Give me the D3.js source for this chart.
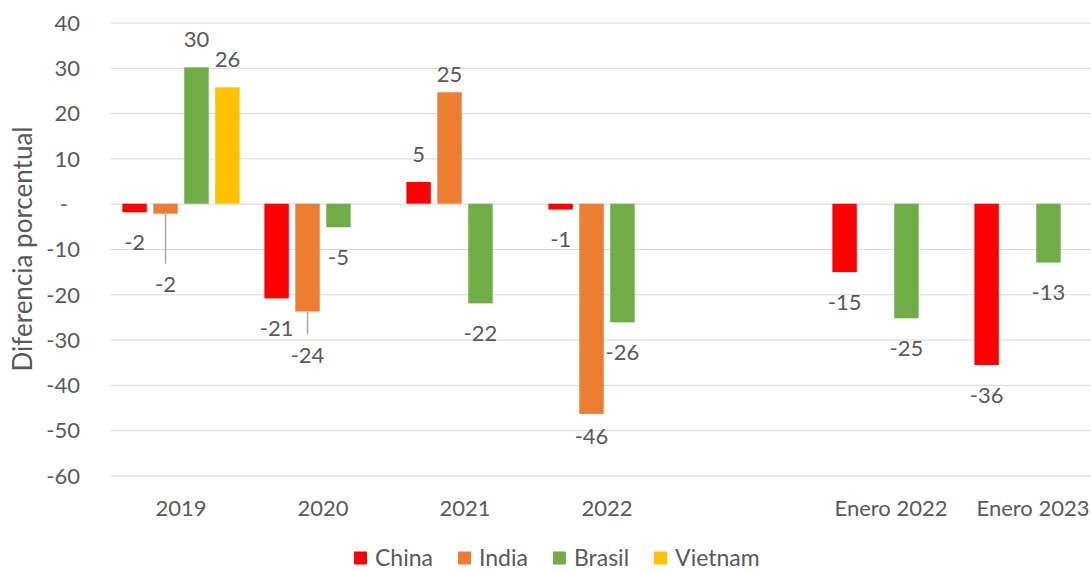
<!DOCTYPE html>
<html lang="es">
<head>
<meta charset="utf-8">
<title>Diferencia porcentual</title>
<script src="https://d3js.org/d3.v7.min.js"></script>
<style>
  body { margin: 0; background: #fff; }
  text { font-family: Lato, "Noto Sans", sans-serif; fill: #595959; }
  .grid line { stroke: #d9d9d9; stroke-width: 1; }
  .grid .domain, .xaxis .domain { display: none; }
</style>
</head>
<body>
<div id="chart"></div>
<script>

// categories (the blank one is the gap before the January comparison)
var categories = ["2019", "2020", "2021", "2022", "", "Enero 2022", "Enero 2023"];
var seriesNames = ["China", "India", "Brasil", "Vietnam"];

// values, one array per country (null = no bar)
var china   = [-1.9, -20.9,  4.8, -1.3, null, -15.1, -35.6];
var india   = [-2.2, -23.8, 24.6, -46.4, null, null, null];
var brasil  = [30.1,  -5.2, -22.0, -26.2, null, -25.3, -13.0];
var vietnam = [25.7,  null,  null,  null, null, null, null];

var yTicks = [40, 30, 20, 10, 0, -10, -20, -30, -40, -50, -60];

var colors = {China: "#ff0000", India: "#ed7d31", Brasil: "#70ad47", Vietnam: "#ffc000"};

// labels moved by hand in the original (dy in px), some with leader lines
var labelMoves = {
  "India|2019": {dy: 41, leader: true},
  "India|2020": {dy: 14, leader: true},
  "India|2021": {dy: 10},
  "India|2022": {dy: -8}
};

var seriesValues = {China: china, India: india, Brasil: brasil, Vietnam: vietnam};

var width = 1091, height = 571;

var svg = d3.select("#chart")
  .append("svg")
    .attr("width", width)
    .attr("height", height);

// hyphen minus like the spreadsheet, not the unicode minus
var fmt = d3.formatLocale({decimal: ".", thousands: ",", grouping: [3], currency: ["", ""], minus: "-"}).format(".0f");

// scales
var x0 = d3.scaleBand()
  .domain(categories)
  .range([110, 1104]);

var x1 = d3.scaleBand()
  .domain(seriesNames)
  .range([0, x0.bandwidth()])
  .paddingInner(0.21)
  .paddingOuter(0.4);

var y = d3.scaleLinear()
  .domain([-60, 40])
  .range([475.5, 22.5]);

// gridlines + y tick labels
var yAxis = svg.append("g")
  .attr("class", "grid")
  .attr("transform", "translate(110,0)")
  .call(d3.axisLeft(y)
    .tickValues(yTicks)
    .tickSize(-(width - 110))
    .tickPadding(30)
    .tickFormat(function(d) { return d === 0 ? "-" : fmt(d); }));

yAxis.selectAll("text")
  .style("font-size", "22px")
  .attr("dy", "0.35em")
  .attr("dx", function(d) { return d === 0 ? -12 : 0; });

// category labels
var xAxis = svg.append("g")
  .attr("class", "xaxis")
  .attr("transform", "translate(0," + y(-60) + ")")
  .call(d3.axisBottom(x0).tickSize(0));

xAxis.selectAll("text")
  .style("font-size", "22px")
  .attr("y", 33)
  .attr("dy", "0.35em");

// flatten to one row per bar
var bars = [];
seriesNames.forEach(function(s) {
  seriesValues[s].forEach(function(v, i) {
    if (v !== null) bars.push({series: s, cat: categories[i], value: v});
  });
});

// bars
svg.append("g")
  .selectAll("rect")
  .data(bars)
  .enter()
  .append("rect")
    .attr("x", function(d) { return x0(d.cat) + x1(d.series); })
    .attr("y", function(d) { return y(Math.max(0, d.value)); })
    .attr("width", x1.bandwidth())
    .attr("height", function(d) { return Math.abs(y(d.value) - y(0)); })
    .style("fill", function(d) { return colors[d.series]; });

// data labels
function labelX(d) { return x0(d.cat) + x1(d.series) + x1.bandwidth() / 2; }
function labelY(d) {
  var m = labelMoves[d.series + "|" + d.cat];
  var base = d.value < 0 ? y(d.value) + 30 : y(d.value) - 28;
  return base + (m ? m.dy : 0);
}

svg.append("g")
  .selectAll("line")
  .data(bars.filter(function(d) {
    var m = labelMoves[d.series + "|" + d.cat];
    return m && m.leader;
  }))
  .enter()
  .append("line")
    .attr("x1", labelX)
    .attr("x2", labelX)
    .attr("y1", function(d) { return y(d.value); })
    .attr("y2", function(d) { return labelY(d) - 21; })
    .style("stroke", "#a6a6a6")
    .style("stroke-width", 1.5);

svg.append("g")
  .selectAll("text")
  .data(bars)
  .enter()
  .append("text")
    .attr("x", labelX)
    .attr("y", labelY)
    .attr("dy", "0.35em")
    .style("text-anchor", "middle")
    .style("font-size", "22px")
    .text(function(d) { return fmt(d.value); });

// y axis title
svg.append("text")
  .attr("transform", "translate(23," + y(-10) + ") rotate(-90)")
  .attr("dy", "0.35em")
  .style("text-anchor", "middle")
  .style("font-size", "26px")
  .text("Diferencia porcentual");

// legend
var legend = svg.append("g").attr("transform", "translate(354,558)");
var lx = 0;
seriesNames.forEach(function(s) {
  var item = legend.append("g").attr("transform", "translate(" + lx + ",0)");
  item.append("rect")
    .attr("x", 0)
    .attr("y", -6.5)
    .attr("width", 13)
    .attr("height", 13)
    .style("fill", colors[s]);
  var t = item.append("text")
    .attr("x", 21)
    .attr("dy", "0.35em")
    .style("font-size", "23px")
    .text(s);
  lx += 21 + t.node().getComputedTextLength() + 25;
});

</script>
</body>
</html>
